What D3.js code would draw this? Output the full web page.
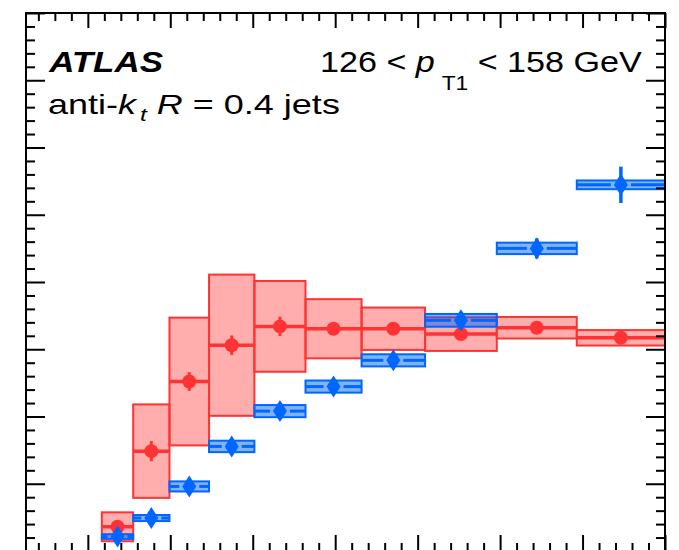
<!DOCTYPE html>
<html>
<head>
<meta charset="utf-8">
<script src="https://cdn.jsdelivr.net/npm/d3@7"></script>
<style>
  html, body { margin: 0; padding: 0; background: #fff; }
  svg { display: block; }
  text { font-family: "Liberation Sans", Arial, Helvetica, sans-serif; fill: #000; }
</style>
</head>
<body>
<svg id="chart" width="679" height="550"></svg>
<script>
// Bin edges along the horizontal axis
const binEdges = [1.17, 1.55, 1.99, 2.47, 3.02, 3.64, 4.32, 5.09, 5.96, 6.93, 8.0];

// Red series: circles with statistical bars and systematic boxes
const redValues = [0.072, 0.297, 0.504, 0.612, 0.668, 0.661, 0.661, 0.645, 0.664, 0.634];
const redStat   = [0.012, 0.030, 0.028, 0.029, 0.029, 0.018, 0.015, 0.015, 0.012, 0.012];
const redSyst   = [0.043, 0.139, 0.190, 0.210, 0.135, 0.088, 0.063, 0.050, 0.032, 0.023];

// Blue series: diamonds with statistical bars and systematic boxes
const blueValues = [0.043, 0.098, 0.192, 0.311, 0.416, 0.489, 0.567, 0.686, 0.900, 1.089];
const blueStat   = [0.005, 0.006, 0.010, 0.012, 0.015, 0.018, 0.020, 0.025, 0.030, 0.054];
const blueSyst   = [0.007, 0.009, 0.015, 0.017, 0.018, 0.018, 0.018, 0.019, 0.017, 0.013];

const RED = "#ff3333", BLUE = "#0066ff";
const frame = { left: 26, right: 665, top: 13, bottom: 551 };

const svg = d3.select("#chart");
const x = d3.scaleLinear().domain([0.25, 8]).range([frame.left, frame.right]);
const y = d3.scaleLinear().domain([0, 1.6]).range([frame.bottom, frame.top]);

const bins = redValues.map((v, i) => ({
  i, lo: binEdges[i], hi: binEdges[i + 1], mid: (binEdges[i] + binEdges[i + 1]) / 2,
  rv: v, rs: redStat[i], rsy: redSyst[i],
  bv: blueValues[i], bs: blueStat[i], bsy: blueSyst[i]
}));

const plot = svg.append("g");

// --- red systematic boxes
plot.selectAll("rect.rbox").data(bins).join("rect")
  .attr("class", "rbox")
  .attr("x", d => x(d.lo)).attr("width", d => x(d.hi) - x(d.lo))
  .attr("y", d => y(d.rv + d.rsy)).attr("height", d => y(d.rv - d.rsy) - y(d.rv + d.rsy))
  .attr("fill", RED).attr("fill-opacity", 0.4)
  .attr("stroke", RED).attr("stroke-width", 2);

// red bin-width lines
plot.selectAll("line.rh").data(bins).join("line")
  .attr("class", "rh")
  .attr("x1", d => x(d.lo)).attr("x2", d => x(d.hi))
  .attr("y1", d => y(d.rv)).attr("y2", d => y(d.rv))
  .attr("stroke", RED).attr("stroke-width", 3.5);

// red statistical bars
plot.selectAll("line.rv").data(bins).join("line")
  .attr("class", "rv")
  .attr("x1", d => x(d.mid)).attr("x2", d => x(d.mid))
  .attr("y1", d => y(d.rv + d.rs)).attr("y2", d => y(d.rv - d.rs))
  .attr("stroke", RED).attr("stroke-width", 3);

// red markers
plot.selectAll("circle.rm").data(bins).join("circle")
  .attr("class", "rm")
  .attr("cx", d => x(d.mid)).attr("cy", d => y(d.rv)).attr("r", 7)
  .attr("fill", RED);

// --- blue systematic boxes
plot.selectAll("rect.bbox").data(bins).join("rect")
  .attr("class", "bbox")
  .attr("x", d => x(d.lo)).attr("width", d => x(d.hi) - x(d.lo))
  .attr("y", d => y(d.bv + d.bsy)).attr("height", d => y(d.bv - d.bsy) - y(d.bv + d.bsy))
  .attr("fill", BLUE).attr("fill-opacity", 0.5)
  .attr("stroke", BLUE).attr("stroke-width", 2);

// blue bin-width lines, interrupted around the marker
const gap = 10;
plot.selectAll("line.bhl").data(bins).join("line")
  .attr("class", "bhl")
  .attr("x1", d => x(d.lo)).attr("x2", d => x(d.mid) - gap)
  .attr("y1", d => y(d.bv)).attr("y2", d => y(d.bv))
  .attr("stroke", BLUE).attr("stroke-width", 3);
plot.selectAll("line.bhr").data(bins).join("line")
  .attr("class", "bhr")
  .attr("x1", d => x(d.mid) + gap).attr("x2", d => x(d.hi))
  .attr("y1", d => y(d.bv)).attr("y2", d => y(d.bv))
  .attr("stroke", BLUE).attr("stroke-width", 3);

// blue statistical bars
plot.selectAll("line.bv").data(bins).join("line")
  .attr("class", "bv")
  .attr("x1", d => x(d.mid)).attr("x2", d => x(d.mid))
  .attr("y1", d => y(d.bv + d.bs)).attr("y2", d => y(d.bv - d.bs))
  .attr("stroke", BLUE).attr("stroke-width", 3.5);

// blue diamond markers
const dw = 7, dh = 11;
plot.selectAll("path.bm").data(bins).join("path")
  .attr("class", "bm")
  .attr("d", d => {
    const cx = x(d.mid), cy = y(d.bv);
    return `M${cx},${cy - dh}L${cx + dw},${cy}L${cx},${cy + dh}L${cx - dw},${cy}Z`;
  })
  .attr("fill", BLUE);

// --- frame and ticks on all four sides
const xMajor = d3.range(1, 8.001, 1);
const xMinor = d3.range(0.4, 8.001, 0.2).filter(v => Math.abs(v - Math.round(v)) > 1e-6);
const yMajor = d3.range(0, 1.6001, 0.2);
const yMinor = d3.range(0, 1.6001, 0.04).filter(v => Math.abs(v / 0.2 - Math.round(v / 0.2)) > 1e-6);

function tickAxis(axisFn, scale, values, size, tx, ty) {
  const g = svg.append("g")
    .attr("transform", `translate(${tx},${ty})`)
    .call(axisFn(scale).tickValues(values).tickSize(size).tickFormat(""));
  g.select(".domain").remove();
  g.selectAll(".tick line").attr("stroke", "#000").attr("stroke-width", 2);
}
tickAxis(d3.axisBottom, x, xMajor, -16, 0, frame.bottom);
tickAxis(d3.axisBottom, x, xMinor, -8, 0, frame.bottom);
tickAxis(d3.axisTop, x, xMajor, -15, 0, frame.top);
tickAxis(d3.axisTop, x, xMinor, -8, 0, frame.top);
tickAxis(d3.axisLeft, y, yMajor, -19, frame.left, 0);
tickAxis(d3.axisLeft, y, yMinor, -9, frame.left, 0);
tickAxis(d3.axisRight, y, yMajor, -19, frame.right, 0);
tickAxis(d3.axisRight, y, yMinor, -9, frame.right, 0);

svg.append("rect")
  .attr("x", frame.left).attr("y", frame.top)
  .attr("width", frame.right - frame.left).attr("height", frame.bottom - frame.top)
  .attr("fill", "none").attr("stroke", "#000").attr("stroke-width", 2);

// --- labels, each stretched horizontally to span its slot
function fit(sel, left, right) {
  const bb = sel.node().getBBox();
  const sx = (right - left) / bb.width;
  sel.attr("transform", `translate(${left - bb.x * sx},0) scale(${sx},1)`);
}

const atlas = svg.append("text")
  .attr("x", 0).attr("y", 72)
  .style("font-size", "30px").style("font-weight", "bold").style("font-style", "italic")
  .text("ATLAS");
fit(atlas, 48, 163);

const jets = svg.append("text").attr("x", 0).attr("y", 114).style("font-size", "28px");
jets.append("tspan").text("anti-");
jets.append("tspan").style("font-style", "italic").text("k");
jets.append("tspan").style("font-style", "italic").style("font-size", "19px")
  .attr("dx", 3).attr("dy", 7).text("t");
jets.append("tspan").attr("dy", -7).text(" ");
jets.append("tspan").style("font-style", "italic").text("R");
jets.append("tspan").text(" = 0.4 jets");
fit(jets, 48, 340);

const ptRange = svg.append("text").attr("x", 0).attr("y", 72).style("font-size", "30px");
ptRange.append("tspan").text("126 < ");
ptRange.append("tspan").style("font-style", "italic").text("p");
ptRange.append("tspan").style("font-size", "20px").attr("dx", 6).attr("dy", 18).text("T1");
ptRange.append("tspan").attr("dy", -18).text(" < 158 GeV");
fit(ptRange, 320, 642);
</script>
</body>
</html>
